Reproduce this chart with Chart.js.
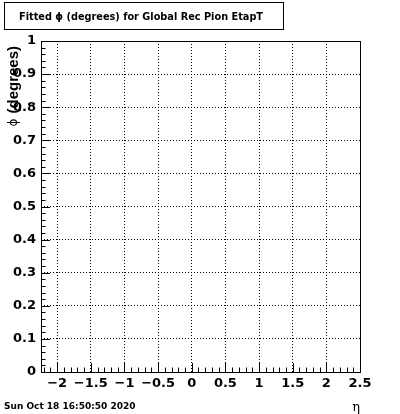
<!DOCTYPE html>
<html>
<head>
<meta charset="utf-8">
<script src="https://cdn.jsdelivr.net/npm/chart.js@4/dist/chart.umd.min.js"></script>
<style>
  html, body { margin: 0; padding: 0; background: #fff; }
</style>
</head>
<body>
<canvas id="c" width="400" height="414"></canvas>
<script>
// 図のテキスト
const titleText = "Fitted \u03d5 (degrees) for Global Rec Pion EtapT";
const xTitle = "\u03b7";
const yTitleSymbol = "\u03d5";
const yTitle = "(degrees)";
const dateText = "Sun Oct 18 16:50:50 2020";

// 軸の範囲と目盛り
const xRange = [-2.24, 2.5];
const yRange = [0, 1];
const xTicks = [-2, -1.5, -1, -0.5, 0, 0.5, 1, 1.5, 2, 2.5];
const yTicks = [0, 0.1, 0.2, 0.3, 0.4, 0.5, 0.6, 0.7, 0.8, 0.9, 1];
const xMinorPerMajor = 5;   // 0.1刻み
const yMinorPerMajor = 5;   // 0.02刻み

// ヒストグラムの中身（空）
const points = [];

const fmt = v => (v < 0 ? "\u2212" + Math.abs(v) : String(v));
const tickFont = { family: "DejaVu Sans", size: 13, weight: "bold" };

// ROOT風の枠・内向き目盛り・タイトル枠・日付
const rootFrame = {
    id: "rootFrame",
    afterDraw(chart) {
        const ctx = chart.ctx;
        const a = chart.chartArea;
        const xs = chart.scales.x, ys = chart.scales.y;
        ctx.save();
        ctx.strokeStyle = "#000";
        ctx.lineWidth = 1;
        ctx.setLineDash([]);

        // 内向きの目盛り（y）
        const yStep = (yTicks[1] - yTicks[0]) / yMinorPerMajor;
        const ny = Math.round((yRange[1] - yRange[0]) / yStep);
        ctx.beginPath();
        for (let i = 0; i <= ny; i++) {
            const v = yRange[0] + i * yStep;
            const py = Math.round(ys.getPixelForValue(v)) + 0.5;
            const len = (i % yMinorPerMajor === 0) ? 9 : 4.5;
            ctx.moveTo(a.left, py);
            ctx.lineTo(a.left + len, py);
        }
        // 内向きの目盛り（x）
        const xStep = (xTicks[1] - xTicks[0]) / xMinorPerMajor;
        const i0 = Math.ceil(xRange[0] / xStep - 1e-6);
        const i1 = Math.floor(xRange[1] / xStep + 1e-6);
        for (let i = i0; i <= i1; i++) {
            const px = Math.round(xs.getPixelForValue(i * xStep)) + 0.5;
            const len = (i % xMinorPerMajor === 0) ? 9 : 4.5;
            ctx.moveTo(px, a.bottom);
            ctx.lineTo(px, a.bottom - len);
        }
        ctx.stroke();

        // 枠
        ctx.strokeRect(Math.round(a.left) + 0.5, Math.round(a.top) + 0.5,
            Math.round(a.right - a.left), Math.round(a.bottom - a.top));

        // タイトルの箱
        ctx.strokeRect(4.5, 2.5, 279, 27);
        ctx.fillStyle = "#000";
        ctx.font = "bold 9.75px 'DejaVu Sans'";
        ctx.textAlign = "center";
        ctx.textBaseline = "middle";
        ctx.fillText(titleText, 141, 17);

        // y軸タイトル（縦書き、上端揃え）
        ctx.save();
        ctx.translate(18, a.top + 5);
        ctx.rotate(-Math.PI / 2);
        ctx.textAlign = "right";
        ctx.textBaseline = "alphabetic";
        ctx.font = "bold 15px 'Liberation Sans'";
        ctx.fillText(yTitle, 0, 0);
        const w = ctx.measureText(yTitle).width;
        ctx.font = "12px 'DejaVu Sans'";
        ctx.fillText(yTitleSymbol, -w - 5, -1);
        ctx.restore();

        // 日付
        ctx.font = "bold 9px 'DejaVu Sans'";
        ctx.textAlign = "left";
        ctx.textBaseline = "middle";
        ctx.fillText(dateText, 4, 407);
        ctx.restore();
    }
};

new Chart(document.getElementById("c"), {
    type: "scatter",
    data: {
        datasets: [{ label: "h", data: points, pointRadius: 0 }]
    },
    options: {
        responsive: false,
        devicePixelRatio: 1,
        animation: false,
        layout: { padding: { top: 41, right: 40, left: 0, bottom: 0 } },
        plugins: { legend: { display: false }, tooltip: { enabled: false } },
        scales: {
            x: {
                type: "linear",
                min: xRange[0],
                max: xRange[1],
                afterFit: s => { s.height = 42; },
                afterBuildTicks: s => { s.ticks = xTicks.map(v => ({ value: v })); },
                border: { display: false, dash: [1, 2] },
                grid: { color: "#000", lineWidth: 1, drawTicks: false },
                ticks: {
                    autoSkip: false, maxRotation: 0, padding: 4,
                    color: "#000", font: tickFont,
                    callback: v => fmt(v)
                },
                title: {
                    display: true, text: xTitle, align: "end", color: "#000",
                    font: { family: "DejaVu Serif", size: 13, lineHeight: 1 },
                    padding: 0
                }
            },
            y: {
                type: "linear",
                min: yRange[0],
                max: yRange[1],
                afterFit: s => { s.width = 41; },
                afterBuildTicks: s => { s.ticks = yTicks.map(v => ({ value: v })); },
                border: { display: false, dash: [1, 2] },
                grid: { color: "#000", lineWidth: 1, drawTicks: false },
                ticks: {
                    padding: 5, color: "#000", font: tickFont,
                    callback: v => fmt(v)
                }
            }
        }
    },
    plugins: [rootFrame]
});
</script>
</body>
</html>
